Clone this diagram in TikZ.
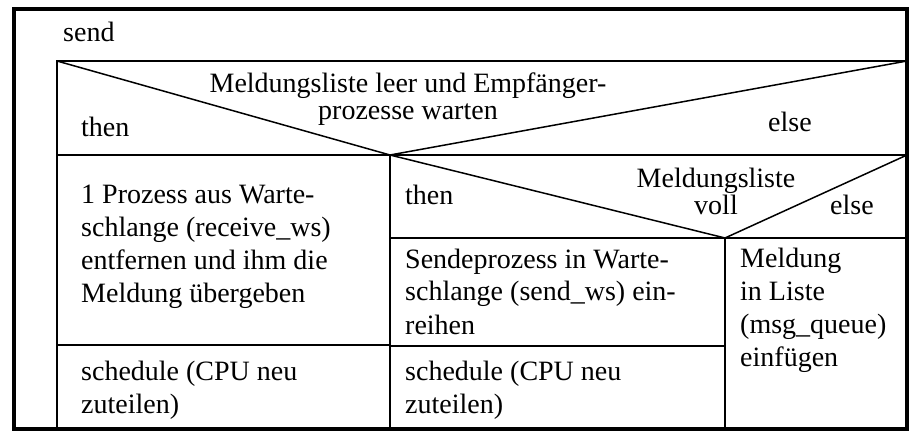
\documentclass[tikz,border=0pt]{standalone}
\usepackage{fontspec}
\setmainfont{Liberation Serif}
\begin{document}
\begin{tikzpicture}[x=1pt,y=-1pt,line join=miter,
  frame/.style={line width=3.6pt},
  rule/.style={line width=2.8pt},
  thin/.style={line width=1.7pt},
  slant/.style={line width=1.5pt},
  txt/.style={inner sep=0pt, anchor=base west, align=left, font=\fontsize{28}{33}\selectfont},
  cond/.style={inner sep=0pt, anchor=base, align=center, font=\fontsize{28}{27}\selectfont}]
\useasboundingbox (0,0) rectangle (917,443);

% corner points of the structogram
\coordinate (oTL) at (14,9);
\coordinate (oBR) at (907,429);
\coordinate (dTL) at (57,61);
\coordinate (dTR) at (907,61);
\coordinate (dBL) at (57,155);
\coordinate (dBR) at (907,155);
\coordinate (apex) at (390,155);
\coordinate (bot) at (390,429);
\coordinate (lsep) at (57,345);
\coordinate (msep) at (725,346);
\coordinate (msepL) at (390,346);
\coordinate (apex2) at (725,238);
\coordinate (nL) at (390,238);
\coordinate (nR) at (907,238);
\coordinate (bot2) at (725,429);
\coordinate (iBL) at (57,429);

% outer frame of the procedure
\draw[frame] (oTL) rectangle (oBR);
% block of the outer selection
\draw[rule] (dTR) -- (dTL) -- (iBL);
\draw[rule] (dBL) -- (dBR);
\draw[rule] (apex) -- (bot);
\draw[slant] (dTL) -- (apex) -- (dTR);
% sequence separators
\draw[rule] (lsep) -- (apex |- lsep);
\draw[rule] (msepL) -- (msep);
% nested selection
\draw[thin] (nL) -- (nR);
\draw[thin] (apex2) -- (bot2);
\draw[slant] (apex) -- (apex2) -- (dBR);

% texts (multi-line nodes are placed by the baseline of their last line)
\node[txt] (send) at (63,42) {send};
\node[cond] (c1) at (408,120) {Meldungsliste leer und Empfänger-\\prozesse warten};
\node[txt] (then1) at (81,137) {then};
\node[txt] (else1) at (768,132) {else};
\node[txt] (then2) at (405,205) {then};
\node[cond] (c2) at (716,215) {Meldungsliste\\voll};
\node[txt] (else2) at (830,215) {else};
\node[txt] (take) at (81,302) {1 Prozess aus Warte-\\schlange (receive\_ws)\\entfernen und ihm die\\Meldung übergeben};
\node[txt] (sched1) at (81,413) {schedule (CPU neu\\zuteilen)};
\node[txt] (queue) at (405,334) {Sendeprozess in Warte-\\schlange (send\_ws) ein-\\reihen};
\node[txt] (sched2) at (405,413) {schedule (CPU neu\\zuteilen)};
\node[txt] (ins) at (740,366) {Meldung\\in Liste\\(msg\_queue)\\einfügen};
\end{tikzpicture}
\end{document}
